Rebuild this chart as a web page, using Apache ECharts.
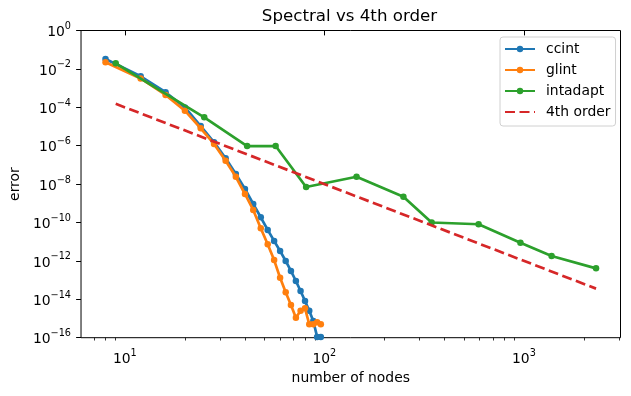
<!DOCTYPE html>
<html>
<head>
<meta charset="utf-8">
<script src="https://cdn.jsdelivr.net/npm/echarts@6/dist/echarts.min.js"></script>
<style>html,body{margin:0;padding:0;background:#fff;}#c{width:631px;height:396px;}</style>
</head>
<body>
<div id="c"></div>
<script>
// ---- data ----
const ccintN = [8,12,16,20,24,28,32,36,40,44,48,52,56,60,64,68,72,76,80,84,88,92,96];
const ccintErr = [3.3e-2,4.1e-3,6.1e-4,9.8e-5,1.06e-5,1.5e-6,2.2e-7,3.4e-8,5.6e-9,9.2e-10,1.87e-10,4.1e-11,1.1e-11,3.3e-12,9.9e-13,3.0e-13,9.0e-14,2.7e-14,8.1e-15,2.5e-15,7.4e-16,1.1e-16,1.1e-16];
const glintN = [8,12,16,20,24,28,32,36,40,44,48,52,56,60,64,68,72,76,80,84,88,92,96];
const glintErr = [2.2e-2,3.2e-3,4.4e-4,6.7e-5,8.1e-6,1.23e-6,1.66e-7,2.4e-8,3.05e-9,4.5e-10,5.0e-11,7.3e-12,1.1e-12,1.33e-13,2.3e-14,5.0e-15,1.1e-15,2.5e-15,3.4e-15,5.0e-16,5.0e-16,6.3e-16,5.0e-16];
const intadaptN = [9,25,41,57,81,145,249,345,593,961,1377,2300];
const intadaptErr = [1.96e-2,3.0e-5,9.6e-7,9.6e-7,7.1e-9,2.4e-8,2.2e-9,1.0e-10,8.1e-11,8.9e-12,1.8e-12,4.1e-13];
const orderN = [9, 2300];
const orderErr = [1.52e-4, 3.6e-14];

const seriesNames = ['ccint','glint','intadapt','4th order'];
const xMajorTicks = [10, 100, 1000];
const xMinorTicks = [6,7,8,9,20,30,40,50,60,70,80,90,200,300,400,500,600,700,800,900,2000,3000];
const xRange = [6.03, 3050];
const yRange = [1e-16, 1];
const yTickStepDecades = 2;

// ---- helpers ----
const L = Math.log10;
const toPts = (ns, es) => ns.map((n, i) => [L(n), L(es[i])]);
const FONT = 'DejaVu Sans';
const supLabel = (v) => {
  const k = Math.round(v);
  const ks = k < 0 ? '\u2212' + (-k) : String(k);
  return '{b|10}{s|' + ks + '}';
};
const rich = {
  b: {fontSize: 13.9, fontFamily: FONT, color: '#000', lineHeight: 18, verticalAlign: 'bottom'},
  s: {fontSize: 9.7, fontFamily: FONT, color: '#000', lineHeight: 9, verticalAlign: 'top'}
};

const colors = ['#1f77b4', '#ff7f0e', '#2ca02c', '#d62728'];
const LW = 2.7;

const chart = echarts.init(document.getElementById('c'), null, {renderer: 'canvas'});
chart.setOption({
  animation: false,
  color: colors,
  title: {
    text: 'Spectral vs 4th order',
    left: 349.5, top: 8, textAlign: 'center', padding: 0,
    textStyle: {fontFamily: FONT, fontSize: 16.67, fontWeight: 'normal', color: '#000'}
  },
  grid: {
    left: 79.5, right: 10.5, top: 30.5, bottom: 58.3,
    show: true, borderColor: '#000', borderWidth: 1, backgroundColor: 'transparent'
  },
  legend: {
    left: 500, top: 37, orient: 'vertical',
    padding: [5, 5, 7, 4], itemGap: 7, itemWidth: 30, itemHeight: 8,
    backgroundColor: 'rgba(255,255,255,0.8)', borderColor: '#d0d0d0', borderWidth: 1, borderRadius: 3,
    textStyle: {fontFamily: FONT, fontSize: 13.9, color: '#000', lineHeight: 14, padding: [0,0,0,6]},
    data: [
      {name: seriesNames[0]},
      {name: seriesNames[1]},
      {name: seriesNames[2]},
      {name: seriesNames[3], itemStyle: {opacity: 0}}
    ]
  },
  xAxis: [{
    type: 'value', min: L(xRange[0]), max: L(xRange[1]),
    name: 'number of nodes', nameLocation: 'middle', nameGap: 33,
    nameTextStyle: {fontFamily: FONT, fontSize: 13.9, color: '#000'},
    axisLine: {show: false},
    splitLine: {show: false},
    axisTick: {show: true, length: 4.9, customValues: xMajorTicks.map(L), lineStyle: {color: '#000', width: 1}},
    axisLabel: {margin: 11, customValues: xMajorTicks.map(L), formatter: supLabel, rich: rich}
  }, {
    type: 'value', min: L(xRange[0]), max: L(xRange[1]), position: 'bottom',
    axisLine: {show: false}, splitLine: {show: false},
    axisTick: {show: true, length: 2.8, customValues: xMinorTicks.map(L), lineStyle: {color: '#000', width: 0.8}},
    axisLabel: {show: false}
  }],
  yAxis: {
    type: 'value', min: L(yRange[0]), max: L(yRange[1]), interval: yTickStepDecades,
    name: 'error', nameLocation: 'middle', nameGap: 56,
    nameTextStyle: {fontFamily: FONT, fontSize: 13.9, color: '#000'},
    axisLine: {show: false},
    splitLine: {show: false},
    axisTick: {show: true, length: 4.9, lineStyle: {color: '#000', width: 1}},
    axisLabel: {margin: 10, formatter: supLabel, rich: rich}
  },
  series: [
    {name: seriesNames[0], type: 'line', xAxisIndex: 0, data: toPts(ccintN, ccintErr), symbol: 'circle', symbolSize: 6.5,
     lineStyle: {width: LW, color: colors[0]}, itemStyle: {color: colors[0]}, z: 2},
    {name: seriesNames[1], type: 'line', xAxisIndex: 0, data: toPts(glintN, glintErr), symbol: 'circle', symbolSize: 6.5,
     lineStyle: {width: LW, color: colors[1]}, itemStyle: {color: colors[1]}, z: 3},
    {name: seriesNames[2], type: 'line', xAxisIndex: 0, data: toPts(intadaptN, intadaptErr), symbol: 'circle', symbolSize: 6.5,
     lineStyle: {width: LW, color: colors[2]}, itemStyle: {color: colors[2]}, z: 4},
    {name: seriesNames[3], type: 'line', xAxisIndex: 0, data: toPts(orderN, orderErr), symbol: 'none',
     lineStyle: {width: LW, color: colors[3], type: [10, 4.5]}, itemStyle: {color: colors[3]}, z: 5}
  ]
});
</script>
</body>
</html>
